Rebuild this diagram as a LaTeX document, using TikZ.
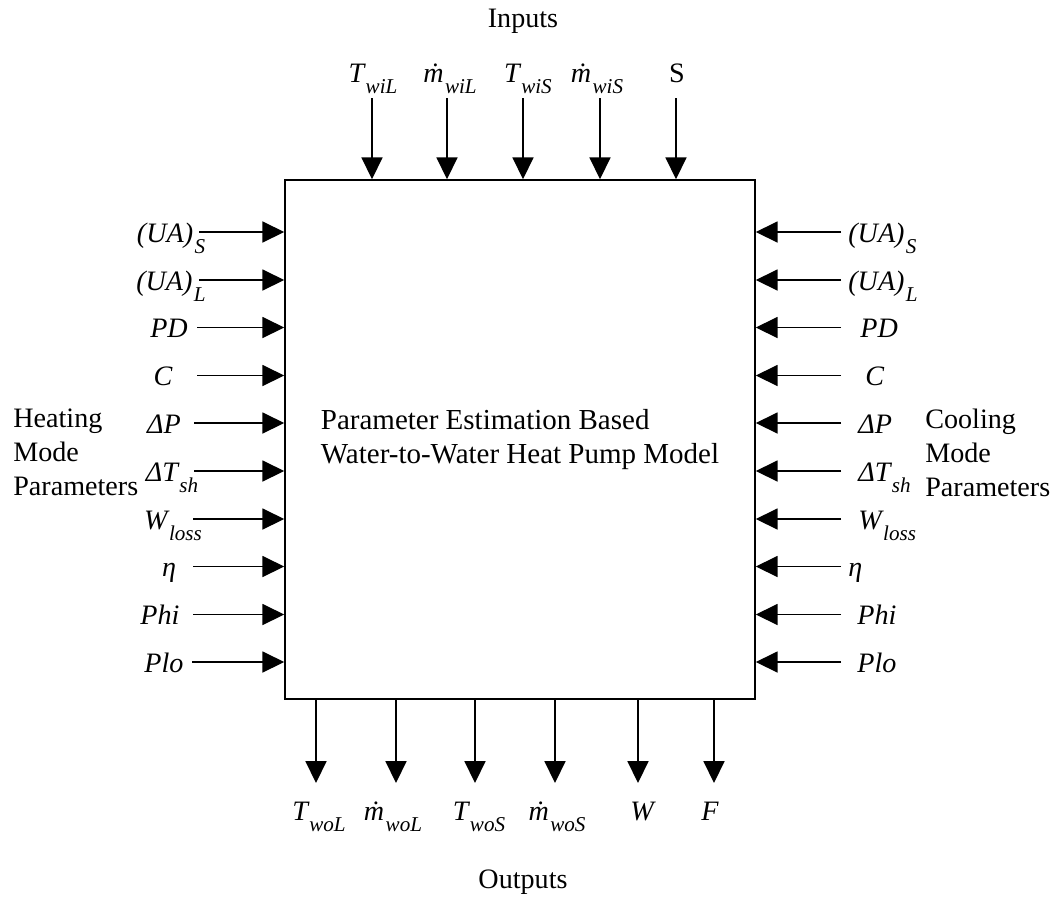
\documentclass[tikz,border=0pt]{standalone}
\usepackage{fontspec}
\setmainfont{Liberation Serif}
\usetikzlibrary{arrows.meta}

\newcommand{\diagfont}{\fontsize{16}{19.3}\selectfont}
\newcommand{\lowsub}[1]{\kern0.8pt\raisebox{-0.42em}{\fontsize{12}{13}\selectfont #1}}

\begin{document}
\begin{tikzpicture}[
  model/.style={rectangle,draw,line width=0.85pt,minimum width=9.4cm,minimum height=10.38cm,align=left,font=\fontsize{16.5}{19.3}\selectfont},
  param/.style={font=\diagfont\itshape,anchor=base,inner sep=0pt},
  rparam/.style={font=\diagfont\itshape,anchor=base west,inner sep=0pt},
  caption/.style={font=\diagfont,align=left,inner sep=0pt},
  arrow/.style={-{Triangle[length=12.5pt,width=12pt]},line width=0.85pt}
]
\useasboundingbox (0,0) rectangle (21.06,-17.94);

% ===== MODEL (Centre) =====
\node[model] (model) at (10.4,-8.79) {Parameter Estimation Based\\Water-to-Water Heat Pump Model};

% ===== INPUTS (Top) =====
\node[caption] (inputs) at (10.46,-0.42) {Inputs};

\node[param] (t_wil) at (7.46,-1.64) {T\lowsub{wiL}};
\node[param] (m_wil) at (9.0,-1.64) {\.{m}\lowsub{wiL}};
\node[param] (t_wis) at (10.56,-1.64) {T\lowsub{wiS}};
\node[param] (m_wis) at (11.94,-1.64) {\.{m}\lowsub{wiS}};
\node[param,font=\diagfont] (s_in) at (13.54,-1.64) {S};

\coordinate (t_wil_a) at (7.44,-1.96);
\coordinate (m_wil_a) at (8.94,-1.96);
\coordinate (t_wis_a) at (10.46,-1.96);
\coordinate (m_wis_a) at (12.0,-1.96);
\coordinate (s_in_a) at (13.52,-1.96);

\draw[arrow] (t_wil_a) -- (t_wil_a |- model.north);
\draw[arrow] (m_wil_a) -- (m_wil_a |- model.north);
\draw[arrow] (t_wis_a) -- (t_wis_a |- model.north);
\draw[arrow] (m_wis_a) -- (m_wis_a |- model.north);
\draw[arrow] (s_in_a) -- (s_in_a |- model.north);

% ===== HEATING MODE PARAMETERS (Left) =====
\node[caption,anchor=west] (heating) at (0.26,-9.04) {Heating\\Mode\\Parameters};

\node[param] (ua_s_h) at (3.42,-4.84) {(UA)\lowsub{S}};
\node[param] (ua_l_h) at (3.42,-5.80) {(UA)\lowsub{L}};
\node[param] (pd_h) at (3.38,-6.75) {PD};
\node[param] (c_h) at (3.26,-7.71) {C};
\node[param] (dp_h) at (3.28,-8.66) {ΔP};
\node[param] (dtsh_h) at (3.44,-9.62) {ΔT\lowsub{sh}};
\node[param] (wloss_h) at (3.46,-10.58) {W\lowsub{loss}};
\node[param] (eta_h) at (3.38,-11.53) {η};
\node[param] (phi_h) at (3.2,-12.49) {Phi};
\node[param] (plo_h) at (3.28,-13.44) {Plo};

\coordinate (ua_s_h_a) at (3.98,-4.64);
\coordinate (ua_l_h_a) at (3.98,-5.60);
\coordinate (pd_h_a) at (3.94,-6.55);
\coordinate (c_h_a) at (3.94,-7.51);
\coordinate (dp_h_a) at (3.88,-8.46);
\coordinate (dtsh_h_a) at (3.88,-9.42);
\coordinate (wloss_h_a) at (3.86,-10.38);
\coordinate (eta_h_a) at (3.86,-11.33);
\coordinate (phi_h_a) at (3.86,-12.29);
\coordinate (plo_h_a) at (3.84,-13.24);

\draw[arrow] (ua_s_h_a) -- (ua_s_h_a -| model.west);
\draw[arrow] (ua_l_h_a) -- (ua_l_h_a -| model.west);
\draw[arrow] (pd_h_a) -- (pd_h_a -| model.west);
\draw[arrow] (c_h_a) -- (c_h_a -| model.west);
\draw[arrow] (dp_h_a) -- (dp_h_a -| model.west);
\draw[arrow] (dtsh_h_a) -- (dtsh_h_a -| model.west);
\draw[arrow] (wloss_h_a) -- (wloss_h_a -| model.west);
\draw[arrow] (eta_h_a) -- (eta_h_a -| model.west);
\draw[arrow] (phi_h_a) -- (phi_h_a -| model.west);
\draw[arrow] (plo_h_a) -- (plo_h_a -| model.west);

% ===== COOLING MODE PARAMETERS (Right) =====
\node[caption,anchor=west] (cooling) at (18.5,-9.06) {Cooling\\Mode\\Parameters};

\node[rparam] (ua_s_c) at (16.96,-4.84) {(UA)\lowsub{S}};
\node[rparam] (ua_l_c) at (16.96,-5.80) {(UA)\lowsub{L}};
\node[rparam] (pd_c) at (17.2,-6.75) {PD};
\node[rparam] (c_c) at (17.3,-7.71) {C};
\node[rparam] (dp_c) at (17.16,-8.66) {ΔP};
\node[rparam] (dtsh_c) at (17.16,-9.62) {ΔT\lowsub{sh}};
\node[rparam] (wloss_c) at (17.16,-10.58) {W\lowsub{loss}};
\node[rparam] (eta_c) at (16.96,-11.53) {η};
\node[rparam] (phi_c) at (17.14,-12.49) {Phi};
\node[rparam] (plo_c) at (17.14,-13.44) {Plo};

\coordinate (ua_s_c_a) at (16.82,-4.64);
\coordinate (ua_l_c_a) at (16.82,-5.60);
\coordinate (pd_c_a) at (16.82,-6.55);
\coordinate (c_c_a) at (16.82,-7.51);
\coordinate (dp_c_a) at (16.82,-8.46);
\coordinate (dtsh_c_a) at (16.82,-9.42);
\coordinate (wloss_c_a) at (16.82,-10.38);
\coordinate (eta_c_a) at (16.82,-11.33);
\coordinate (phi_c_a) at (16.82,-12.29);
\coordinate (plo_c_a) at (16.82,-13.24);

\draw[arrow] (ua_s_c_a) -- (ua_s_c_a -| model.east);
\draw[arrow] (ua_l_c_a) -- (ua_l_c_a -| model.east);
\draw[arrow] (pd_c_a) -- (pd_c_a -| model.east);
\draw[arrow] (c_c_a) -- (c_c_a -| model.east);
\draw[arrow] (dp_c_a) -- (dp_c_a -| model.east);
\draw[arrow] (dtsh_c_a) -- (dtsh_c_a -| model.east);
\draw[arrow] (wloss_c_a) -- (wloss_c_a -| model.east);
\draw[arrow] (eta_c_a) -- (eta_c_a -| model.east);
\draw[arrow] (phi_c_a) -- (phi_c_a -| model.east);
\draw[arrow] (plo_c_a) -- (plo_c_a -| model.east);

% ===== OUTPUTS (Bottom) =====
\coordinate (t_wol_a) at (6.32,-15.66);
\coordinate (m_wol_a) at (7.92,-15.66);
\coordinate (t_wos_a) at (9.5,-15.66);
\coordinate (m_wos_a) at (11.1,-15.66);
\coordinate (w_out_a) at (12.76,-15.66);
\coordinate (f_out_a) at (14.28,-15.66);

\draw[arrow] (t_wol_a |- model.south) -- (t_wol_a);
\draw[arrow] (m_wol_a |- model.south) -- (m_wol_a);
\draw[arrow] (t_wos_a |- model.south) -- (t_wos_a);
\draw[arrow] (m_wos_a |- model.south) -- (m_wos_a);
\draw[arrow] (w_out_a |- model.south) -- (w_out_a);
\draw[arrow] (f_out_a |- model.south) -- (f_out_a);

\node[param] (t_wol) at (6.38,-16.4) {T\lowsub{woL}};
\node[param] (m_wol) at (7.86,-16.4) {\.{m}\lowsub{woL}};
\node[param] (t_wos) at (9.58,-16.4) {T\lowsub{woS}};
\node[param] (m_wos) at (11.14,-16.4) {\.{m}\lowsub{woS}};
\node[param] (w_out) at (12.84,-16.4) {W};
\node[param] (f_out) at (14.2,-16.4) {F};

\node[caption] (outputs) at (10.46,-17.64) {Outputs};

\end{tikzpicture}
\end{document}
